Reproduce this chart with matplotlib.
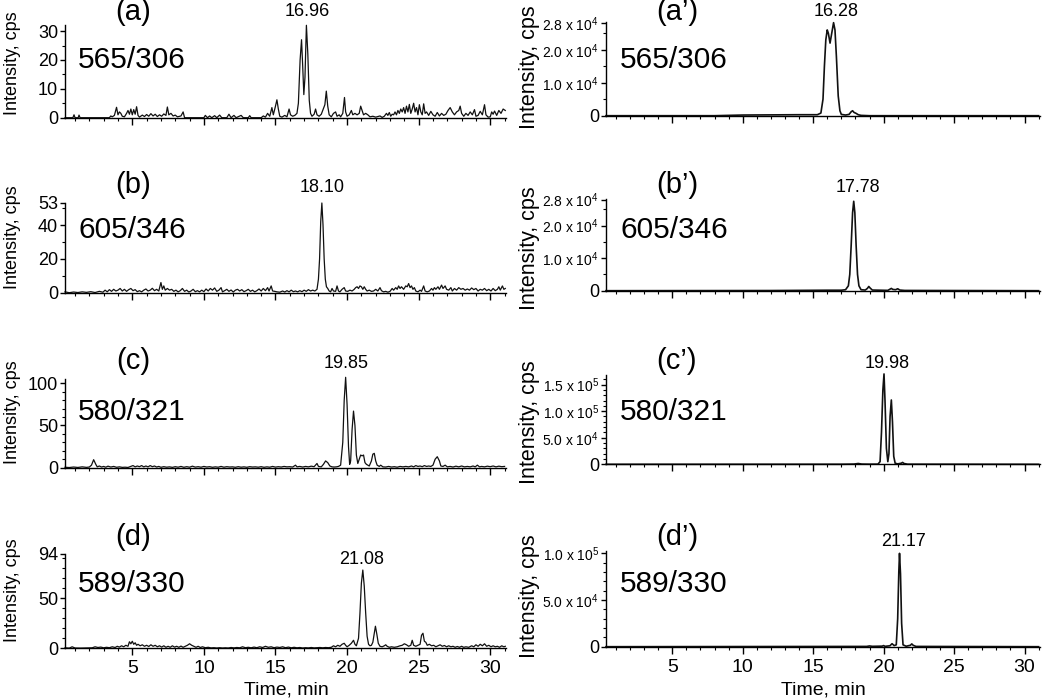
import matplotlib
matplotlib.use('Agg')
import matplotlib.pyplot as plt
from matplotlib.ticker import FixedLocator, MultipleLocator

plt.rcParams['font.family'] = ['Liberation Sans', 'DejaVu Sans']
plt.rcParams['mathtext.default'] = 'regular'

# ---------------- data (time in min, intensity in cps) ----------------
trace_a = [(0.3,0),(0.85,0),(0.93,1.0),(1.0,0),(1.22,0),(1.28,0.9),(1.35,0),
(3.4,0),(3.5,0.6),(3.6,0.3),(3.75,0.8),(3.9,3.6),(4.0,1.0),(4.1,2.0),(4.2,1.5),(4.3,0.5),(4.45,0.3),(4.6,1.5),
(4.7,2.5),(4.8,1.2),(4.9,3.0),(5.0,1.0),(5.1,2.8),(5.2,1.2),(5.3,3.8),(5.4,0.8),(5.5,0.2),(5.7,0.9),(5.85,0.4),
(6.0,1.1),(6.15,0.5),(6.3,1.4),(6.45,0.6),(6.6,1.2),(6.75,0.4),(6.9,1.0),(7.05,0.5),(7.2,1.3),(7.35,0.8),(7.45,3.7),
(7.55,1.0),(7.7,1.5),(7.85,0.6),(8.0,0.9),(8.15,0.3),(8.4,0.6),(8.55,2.0),(8.65,0),
(10.0,0),(10.1,0.8),(10.25,0),(10.4,0.6),(10.55,0),(10.75,0.7),(10.9,0),(11.1,0.9),(11.25,0),(11.6,0),(11.75,1.2),
(11.9,0),(12.1,0.8),(12.25,0),(12.6,0.8),(12.75,0),(13.1,0),(13.2,0.7),(13.3,0),(14.0,0),(14.15,0.6),(14.3,0.2),
(14.45,1.5),(14.6,0.5),(14.75,3.5),(14.85,1.0),(15.0,4.0),(15.1,6.2),(15.2,3.0),(15.3,0.5),(15.45,0.2),(15.65,0.8),
(15.8,0.3),(15.95,3.0),(16.05,1.0),(16.2,0.5),(16.35,0.8),(16.5,1.5),(16.6,5),(16.72,20),(16.82,27),(16.9,18),
(16.98,8),(17.06,14),(17.16,32),(17.26,22),(17.36,6),(17.45,1.5),(17.55,0.5),(17.7,1.2),(17.8,3.0),(17.9,1.0),
(18.05,0.5),(18.2,1.2),(18.3,2.5),(18.45,4.5),(18.55,9.2),(18.65,4.0),(18.75,1.0),(18.9,0.3),(19.05,1.5),(19.2,2.0),
(19.3,0.5),(19.45,1.0),(19.55,0.3),(19.7,1.5),(19.82,7.0),(19.9,2.0),(20.0,0.5),(20.15,1.0),(20.3,2.5),(20.4,1.0),
(20.55,1.5),(20.7,1.0),(20.85,1.5),(20.95,4.0),(21.05,2.5),(21.15,1.0),(21.3,1.5),(21.45,1.0),(21.6,0.3),(21.8,0.5),
(22.0,0.2),(22.3,0.6),(22.45,0.1),(22.6,0.5),(22.75,1.5),(22.85,0.8),(22.95,1.8),(23.05,0.5),(23.15,1.2),(23.25,1.0),
(23.35,2.0),(23.45,1.0),(23.55,2.5),(23.65,1.5),(23.75,3.0),(23.85,2.0),(23.95,3.5),(24.05,1.5),(24.15,4.0),(24.25,2.0),
(24.35,4.6),(24.45,1.5),(24.55,3.0),(24.65,5.0),(24.75,2.0),(24.85,3.5),(24.95,1.0),(25.05,4.5),(25.15,2.0),(25.25,1.0),
(25.35,4.8),(25.45,1.5),(25.55,2.0),(25.7,0.8),(25.85,2.2),(26.0,1.0),(26.15,0.5),(26.3,1.8),(26.45,0.6),(26.6,1.5),
(26.75,0.8),(26.9,1.2),(27.05,2.5),(27.2,3.5),(27.35,2.0),(27.5,1.0),(27.65,2.0),(27.8,2.5),(27.9,4.0),(28.0,1.5),
(28.15,0.5),(28.3,1.5),(28.45,0.8),(28.6,2.0),(28.75,1.0),(28.9,2.8),(29.0,0.5),(29.15,0.8),(29.3,2.2),(29.45,1.0),
(29.6,4.5),(29.7,1.0),(29.85,0.2),(30.0,0.3),(30.1,2.0),(30.2,1.2),(30.3,2.3),(30.45,0.8),(30.6,2.5),(30.75,1.5),
(30.9,3.0),(31.05,2.5)]

trace_b = [(0.3,0.5),(0.6,0),(0.9,0.4),(1.2,0.1),(1.5,0.5),(1.8,0.2),(2.1,0.6),(2.4,0.1),(2.7,0.8),(2.95,0.3),(3.1,1.5),
(3.25,0.5),(3.4,1.8),(3.55,0.8),(3.7,2.0),(3.85,1.0),(4.0,1.5),(4.15,2.5),(4.3,1.0),(4.45,2.0),(4.6,0.8),(4.75,1.8),
(4.9,2.5),(5.05,1.2),(5.2,1.8),(5.35,0.6),(5.5,1.2),(5.65,0.5),(5.8,1.5),(5.95,2.2),(6.1,1.0),(6.25,1.5),(6.4,2.6),
(6.55,1.2),(6.7,2.0),(6.85,1.0),(7.0,6.0),(7.1,2.0),(7.2,4.0),(7.3,1.5),(7.45,2.5),(7.6,1.5),(7.75,2.0),(7.9,0.8),
(8.05,1.5),(8.2,0.5),(8.35,1.2),(8.5,2.5),(8.65,0.8),(8.8,1.5),(8.95,0.4),(9.1,1.0),(9.25,2.0),(9.4,0.6),(9.55,1.2),
(9.7,0.5),(9.85,1.5),(10.0,0.6),(10.15,2.2),(10.3,1.0),(10.45,2.5),(10.6,1.5),(10.75,2.8),(10.9,0.8),(11.05,1.5),
(11.2,3.0),(11.3,0.5),(11.45,1.2),(11.6,2.0),(11.75,0.8),(11.9,1.6),(12.05,0.4),(12.2,1.5),(12.35,2.0),(12.5,1.0),
(12.65,1.8),(12.8,0.6),(12.95,1.2),(13.1,2.0),(13.25,0.8),(13.4,1.5),(13.55,0.5),(13.7,1.2),(13.85,2.2),(14.0,1.0),
(14.15,2.5),(14.3,1.2),(14.45,3.0),(14.55,1.0),(14.7,4.0),(14.8,1.0),(14.95,0.8),(15.1,0.5),(15.3,0.3),(15.5,1.0),
(15.65,0.4),(15.8,1.2),(15.95,0.5),(16.1,1.5),(16.25,0.6),(16.4,1.0),(16.55,0.5),(16.7,1.2),(16.85,0.6),(17.0,1.5),
(17.15,0.8),(17.3,1.8),(17.45,1.0),(17.6,1.5),(17.75,1.0),(17.9,2.0),(18.0,8.0),(18.08,20),(18.16,42),(18.24,53),
(18.32,40),(18.4,20),(18.48,8),(18.56,3.5),(18.65,2.5),(18.75,1.0),(18.85,0.5),(18.95,2.5),(19.05,1.0),(19.2,0.8),
(19.3,4.0),(19.4,1.0),(19.5,0.5),(19.65,2.0),(19.8,3.0),(19.9,1.0),(20.05,0.8),(20.2,1.5),(20.35,1.0),(20.5,2.0),
(20.6,3.0),(20.7,3.5),(20.8,2.5),(20.9,4.0),(21.0,3.5),(21.1,2.0),(21.2,3.5),(21.3,2.0),(21.4,1.0),(21.55,1.5),
(21.7,0.8),(21.85,1.0),(22.0,2.0),(22.15,1.0),(22.3,3.0),(22.4,1.2),(22.55,0.5),(22.7,0.8),(22.85,0.3),(23.0,0.8),
(23.15,2.5),(23.25,1.5),(23.4,3.0),(23.5,2.0),(23.6,4.0),(23.7,2.5),(23.8,3.5),(23.95,2.0),(24.1,4.0),(24.2,3.5),
(24.3,5.4),(24.4,3.0),(24.5,4.0),(24.6,2.0),(24.7,3.0),(24.8,1.0),(24.95,0.5),(25.1,1.5),(25.2,0.8),(25.35,4.0),
(25.45,1.0),(25.6,0.5),(25.75,1.0),(25.9,2.5),(26.0,1.5),(26.1,3.0),(26.2,2.0),(26.35,3.5),(26.45,2.0),(26.6,4.5),
(26.7,2.5),(26.85,4.0),(26.95,2.0),(27.1,1.5),(27.25,3.0),(27.35,1.0),(27.5,2.5),(27.65,1.5),(27.8,3.0),(27.95,2.0),
(28.1,2.5),(28.25,1.5),(28.4,2.2),(28.55,1.5),(28.7,2.8),(28.85,1.8),(29.0,2.5),(29.15,1.0),(29.3,2.0),(29.45,1.5),
(29.6,2.5),(29.75,1.2),(29.9,2.0),(30.05,1.0),(30.2,2.5),(30.35,1.2),(30.5,2.0),(30.6,3.5),(30.7,1.5),(30.85,4.0),
(30.95,2.0),(31.05,2.5)]

trace_c = [(0.3,0.5),(0.6,0.2),(0.9,0.8),(1.2,0.3),(1.5,1.0),(1.8,0.4),(2.0,0.8),(2.15,3),(2.3,9.5),(2.45,4),(2.55,1.0),
(2.7,2.0),(2.85,0.8),(3.0,1.5),(3.15,0.6),(3.3,1.8),(3.5,0.8),(3.7,1.5),(3.9,0.5),(4.1,1.0),(4.3,0.4),(4.5,0.6),
(4.7,0.3),(4.9,1.5),(5.05,2.5),(5.2,1.0),(5.35,2.0),(5.5,1.2),(5.65,2.5),(5.8,1.0),(5.95,2.0),(6.1,1.0),(6.25,2.5),
(6.4,1.2),(6.55,2.0),(6.7,0.8),(6.85,1.5),(7.0,0.5),(7.2,1.2),(7.4,0.6),(7.6,1.0),(7.8,0.4),(8.0,1.2),(8.2,0.6),
(8.4,1.5),(8.6,0.5),(8.8,1.2),(9.0,0.6),(9.2,1.8),(9.4,0.7),(9.6,1.2),(9.8,0.6),(10.0,1.5),(10.2,0.8),(10.4,1.2),
(10.6,0.5),(10.8,1.0),(11.0,0.6),(11.2,1.5),(11.4,0.6),(11.6,1.2),(11.8,0.8),(12.0,1.0),(12.2,0.5),(12.4,1.2),
(12.6,0.6),(12.8,1.0),(13.0,0.5),(13.2,1.2),(13.4,0.8),(13.6,1.0),(13.8,0.6),(14.0,1.2),(14.2,0.5),(14.4,1.0),
(14.6,0.6),(14.8,1.5),(15.0,0.7),(15.2,1.2),(15.4,0.8),(15.6,1.5),(15.8,1.0),(16.0,1.2),(16.2,0.8),(16.4,3.0),
(16.5,1.0),(16.7,1.5),(16.9,0.8),(17.1,1.5),(17.3,1.0),(17.5,1.8),(17.7,1.2),(17.9,5.0),(18.0,1.5),(18.2,1.0),
(18.35,4),(18.5,8),(18.65,6),(18.8,2.0),(18.95,1.0),(19.1,0.8),(19.25,1.0),(19.4,1.5),(19.55,3),(19.7,30),(19.8,80),
(19.9,107),(20.0,75),(20.1,25),(20.18,4),(20.25,8),(20.35,45),(20.45,67),(20.55,50),(20.65,15),(20.75,5),(20.85,10),
(20.95,15),(21.05,14),(21.15,15),(21.25,6),(21.35,4),(21.45,3),(21.55,2),(21.7,8),(21.8,16),(21.9,17),(22.0,8),
(22.1,3),(22.25,1.5),(22.35,3.0),(22.5,1.0),(22.7,0.8),(22.9,1.5),(23.1,0.8),(23.3,1.2),(23.5,0.6),(23.7,1.5),
(23.9,1.0),(24.1,1.5),(24.3,1.0),(24.5,2.0),(24.65,1.0),(24.8,2.5),(24.95,1.5),(25.1,2.0),(25.25,1.2),(25.4,2.5),
(25.55,1.5),(25.7,2.0),(25.85,1.5),(26.0,3),(26.15,10),(26.3,13),(26.45,8),(26.55,2.0),(26.7,1.5),(26.85,3.0),
(27.0,1.0),(27.2,1.5),(27.4,0.8),(27.6,1.8),(27.8,1.0),(28.0,2.0),(28.2,1.0),(28.4,1.5),(28.6,1.0),(28.8,2.0),
(28.95,1.0),(29.1,3.0),(29.25,1.0),(29.4,1.5),(29.6,1.0),(29.8,1.8),(30.0,1.2),(30.2,2.0),(30.4,1.0),(30.6,1.8),
(30.8,1.2),(31.0,1.5)]

trace_d = [(0.3,0.5),(0.6,0.2),(0.8,1.5),(1.0,0.3),(1.4,0.2),(1.8,0.3),(2.2,0.5),(2.4,1.5),(2.6,0.8),(2.8,1.2),(3.0,0.5),
(3.2,1.0),(3.4,0.6),(3.6,1.5),(3.8,0.8),(3.95,2.0),(4.1,1.2),(4.25,2.5),(4.4,1.5),(4.55,3.0),(4.7,2.0),(4.8,6.5),
(4.9,4.5),(5.0,7.0),(5.1,4.0),(5.2,5.5),(5.3,3.0),(5.4,4.0),(5.55,2.5),(5.7,3.5),(5.85,2.0),(6.0,3.0),(6.15,1.8),
(6.3,3.5),(6.45,2.0),(6.6,3.0),(6.75,1.5),(6.9,2.5),(7.05,1.2),(7.2,2.5),(7.35,1.0),(7.5,2.0),(7.65,1.0),(7.8,2.5),
(7.95,1.2),(8.1,2.0),(8.25,1.0),(8.4,2.2),(8.55,1.0),(8.7,2.0),(8.85,3.0),(9.0,4.5),(9.15,3.0),(9.3,2.0),(9.45,1.0),
(9.6,2.0),(9.75,0.8),(9.9,1.5),(10.1,0.6),(10.3,1.0),(10.5,0.4),(10.7,0.6),(10.9,0.3),(11.1,0.6),(11.3,0.3),(11.5,0.5),
(11.7,0.3),(11.9,0.8),(12.1,0.4),(12.3,0.8),(12.5,0.5),(12.7,1.5),(12.9,0.6),(13.1,1.0),(13.3,0.5),(13.5,1.2),
(13.7,0.6),(13.9,1.5),(14.1,0.8),(14.3,2.0),(14.5,1.0),(14.7,1.5),(14.9,0.6),(15.1,1.2),(15.3,0.8),(15.5,1.5),
(15.7,0.6),(15.9,1.2),(16.1,0.5),(16.3,1.0),(16.5,0.5),(16.7,0.8),(16.9,0.3),(17.1,0.6),(17.3,0.4),(17.5,0.8),
(17.7,0.4),(17.9,0.6),(18.1,0.8),(18.3,0.5),(18.5,0.8),(18.7,0.6),(18.9,1.0),(19.05,2.5),(19.2,1.5),(19.35,3.0),
(19.5,2.0),(19.65,4.0),(19.8,5.0),(19.9,3.0),(20.0,1.5),(20.15,3.0),(20.3,5.0),(20.45,8.0),(20.55,4.0),(20.65,2.5),
(20.8,10),(20.9,35),(21.0,65),(21.1,78),(21.2,62),(21.3,35),(21.4,12),(21.5,4),(21.6,2.5),(21.7,3.0),(21.8,6),
(21.9,15),(21.98,22),(22.08,14),(22.18,5),(22.3,2.0),(22.45,1.5),(22.6,2.5),(22.7,3.5),(22.8,2.0),(22.95,1.0),
(23.1,1.5),(23.3,1.0),(23.5,1.5),(23.7,2.5),(23.85,3.0),(24.0,4.5),(24.15,3.5),(24.3,2.0),(24.45,3.0),(24.55,8.0),
(24.65,3.0),(24.8,2.0),(24.95,3.0),(25.1,4.0),(25.2,13),(25.3,15),(25.4,7),(25.5,6),(25.6,3.0),(25.75,4.0),
(25.9,2.5),(26.05,3.0),(26.2,1.5),(26.35,2.5),(26.5,3.5),(26.65,2.0),(26.8,2.8),(26.95,1.5),(27.1,2.5),(27.25,1.5),
(27.4,2.0),(27.55,1.0),(27.7,1.8),(27.85,1.0),(28.0,2.0),(28.15,1.0),(28.3,1.5),(28.5,1.0),(28.7,2.5),(28.85,1.5),
(29.0,3.5),(29.15,2.0),(29.3,4.0),(29.45,2.5),(29.6,4.5),(29.75,2.0),(29.9,3.0),(30.05,1.5),(30.2,2.5),(30.35,1.5),
(30.5,2.0),(30.65,1.0),(30.8,2.5),(30.95,1.5),(31.05,2.0)]

trace_a2 = [(0.3,0),(8,0),(10,200),(14,300),(15.3,300),(15.55,800),(15.7,5000),(15.8,15000),(15.9,23000),(16.0,26000),
(16.08,25000),(16.2,22000),(16.32,25000),(16.45,28200),(16.55,26000),(16.65,18000),(16.78,6000),(16.9,1500),
(17.0,400),(17.3,200),(17.55,400),(17.7,1200),(17.8,1500),(17.9,1000),(18.05,700),(18.2,300),(18.4,100),(19,0),(31,0)]

trace_b2 = [(0.3,0),(12,50),(16,150),(17.0,150),(17.3,300),(17.5,1500),(17.6,5000),(17.7,14000),(17.8,24000),
(17.88,27500),(17.96,24000),(18.05,14000),(18.15,5000),(18.25,1500),(18.4,300),(18.7,200),(18.85,700),(18.95,1300),
(19.05,800),(19.2,200),(20.3,100),(20.55,700),(20.65,400),(20.85,300),(21.0,600),(21.15,200),(21.5,80),(31,0)]

trace_c2 = [(0.3,0),(17,100),(17.9,400),(18.2,1500),(18.45,400),(19.0,200),(19.6,300),(19.75,5000),(19.85,60000),
(19.95,140000),(20.03,170000),(20.1,120000),(20.2,30000),(20.3,5000),(20.38,20000),(20.46,90000),(20.55,121000),
(20.63,80000),(20.72,15000),(20.82,2000),(21.0,800),(21.25,2000),(21.35,3500),(21.45,1500),(21.7,200),(31,0)]

trace_d2 = [(0.3,0),(18.8,300),(19.0,800),(19.2,400),(19.9,600),(20.0,1200),(20.1,400),(20.45,1000),(20.6,3200),
(20.75,1200),(20.9,2000),(21.0,30000),(21.08,80000),(21.13,100000),(21.2,78000),(21.28,25000),(21.38,2000),
(21.6,500),(21.9,1500),(22.0,3000),(22.1,1500),(22.3,300),(31,0)]

panel_tags_left = ['(a)', '(b)', '(c)', '(d)']
panel_tags_right = ["(a\u2019)", "(b\u2019)", "(c\u2019)", "(d\u2019)"]
transitions = ['565/306', '605/346', '580/321', '589/330']
peak_labels_left = ['16.96', '18.10', '19.85', '21.08']
peak_labels_right = ['16.28', '17.78', '19.98', '21.17']

yticks_left = [[0, 10, 20, 30], [0, 20, 40, 53], [0, 50, 100], [0, 50, 94]]
yticks_right = [[0, 1e4, 2e4, 2.8e4], [0, 1e4, 2e4, 2.8e4], [0, 5e4, 1e5, 1.5e5], [0, 5e4, 1e5]]
yticklabels_right = [['0', '1.0 x 10$^{4}$', '2.0 x 10$^{4}$', '2.8 x 10$^{4}$'],
                     ['0', '1.0 x 10$^{4}$', '2.0 x 10$^{4}$', '2.8 x 10$^{4}$'],
                     ['0', '5.0 x 10$^{4}$', '1.0 x 10$^{5}$', '1.5 x 10$^{5}$'],
                     ['0', '5.0 x 10$^{4}$', '1.0 x 10$^{5}$']]
xticks = [5, 10, 15, 20, 25, 30]

# ---------------- layout ----------------
W, H = 1050, 699
fig = plt.figure(figsize=(W / 100, H / 100), dpi=100)

def fx(x):
    return x / W

def fy(y):
    return 1 - y / H

left_boxes = [(65, 25, 506, 117.7), (65, 203, 506, 292.7), (65, 379, 506, 467.7), (65, 554, 506, 648.3)]
right_boxes = [(606, 22, 1040, 115.7), (606, 199, 1040, 290.7), (606, 375, 1040, 464.3), (606, 551, 1040, 646.7)]
ytop_left = [32.1, 53, 105, 94]
ytop_right = [2.84e4, 2.82e4, 1.68e5, 1.025e5]
yminor_left = [5, 10, 10, 10]
yminor_right = [5e3, 5e3, 1e4, 1e4]

def make_ax(box):
    l, t, r, b = box
    return fig.add_axes([fx(l), fy(b), fx(r) - fx(l), (b - t) / H])

def style(ax, bottom_labels):
    for s in ['top', 'right']:
        ax.spines[s].set_visible(False)
    for s in ['left', 'bottom']:
        ax.spines[s].set_linewidth(1.0)
    ax.set_xlim(0.3, 31.1)
    ax.xaxis.set_major_locator(FixedLocator(xticks))
    ax.xaxis.set_minor_locator(MultipleLocator(1))
    ax.tick_params(axis='x', which='major', direction='out', length=5, width=1.0, labelsize=14, pad=3.5)
    ax.tick_params(axis='x', which='minor', direction='out', length=2.5, width=0.8)
    ax.tick_params(axis='y', which='major', direction='out', length=3.5, width=1.0, pad=1.5)
    ax.tick_params(axis='y', which='minor', direction='out', length=2, width=0.8)
    if not bottom_labels:
        ax.tick_params(axis='x', labelbottom=False)
    ax.patch.set_alpha(0)

traces_left = [trace_a, trace_b, trace_c, trace_d]
traces_right = [trace_a2, trace_b2, trace_c2, trace_d2]

for i in range(4):
    # left column
    ax = make_ax(left_boxes[i])
    tt = [p[0] for p in traces_left[i]]
    vv = [p[1] for p in traces_left[i]]
    ax.plot(tt, vv, color='#111111', lw=0.9, clip_on=False)
    ax.set_ylim(0, ytop_left[i])
    ax.set_yticks(yticks_left[i])
    ax.yaxis.set_minor_locator(MultipleLocator(yminor_left[i]))
    ax.tick_params(axis='y', labelsize=13)
    style(ax, i == 3)

    # right column
    ax2 = make_ax(right_boxes[i])
    tt = [p[0] for p in traces_right[i]]
    vv = [p[1] for p in traces_right[i]]
    ax2.plot(tt, vv, color='#111111', lw=1.2, clip_on=False)
    ax2.set_ylim(0, ytop_right[i])
    ax2.set_yticks(yticks_right[i])
    ax2.set_yticklabels(yticklabels_right[i])
    for lab in ax2.get_yticklabels():
        lab.set_fontsize(13 if lab.get_text() == '0' else 10)
    ax2.yaxis.set_minor_locator(MultipleLocator(yminor_right[i]))
    style(ax2, i == 3)

# text positions (pixels)
tag_y = [12, 185, 361, 537]
tag_x_left, tag_x_right = 133, 677
trans_y = [60, 230, 412, 584]
trans_x_left, trans_x_right = 78, 620
peak_pos_left = [(307, 11), (322, 188), (346, 364), (362, 559)]
peak_pos_right = [(836, 11), (858, 188), (887, 364), (903, 541)]
ylab_left = [63, 237, 412, 590]
ylab_right = [67, 248, 422, 596]

for i in range(4):
    fig.text(fx(tag_x_left), fy(tag_y[i]), panel_tags_left[i], fontsize=21, ha='center', va='center')
    fig.text(fx(tag_x_right), fy(tag_y[i]), panel_tags_right[i], fontsize=21, ha='center', va='center')
    fig.text(fx(trans_x_left), fy(trans_y[i]), transitions[i], fontsize=21.5, ha='left', va='center')
    fig.text(fx(trans_x_right), fy(trans_y[i]), transitions[i], fontsize=21.5, ha='left', va='center')
    fig.text(fx(peak_pos_left[i][0]), fy(peak_pos_left[i][1]), peak_labels_left[i], fontsize=13, ha='center', va='center')
    fig.text(fx(peak_pos_right[i][0]), fy(peak_pos_right[i][1]), peak_labels_right[i], fontsize=13, ha='center', va='center')
    fig.text(fx(13), fy(ylab_left[i]), 'Intensity, cps', fontsize=13, rotation=90, ha='center', va='center')
    fig.text(fx(529), fy(ylab_right[i]), 'Intensity, cps', fontsize=15.5, rotation=90, ha='center', va='center')

fig.text(fx(286), fy(690), 'Time, min', fontsize=14, ha='center', va='center')
fig.text(fx(823), fy(690), 'Time, min', fontsize=14, ha='center', va='center')

fig.savefig('out.png', dpi=100)
